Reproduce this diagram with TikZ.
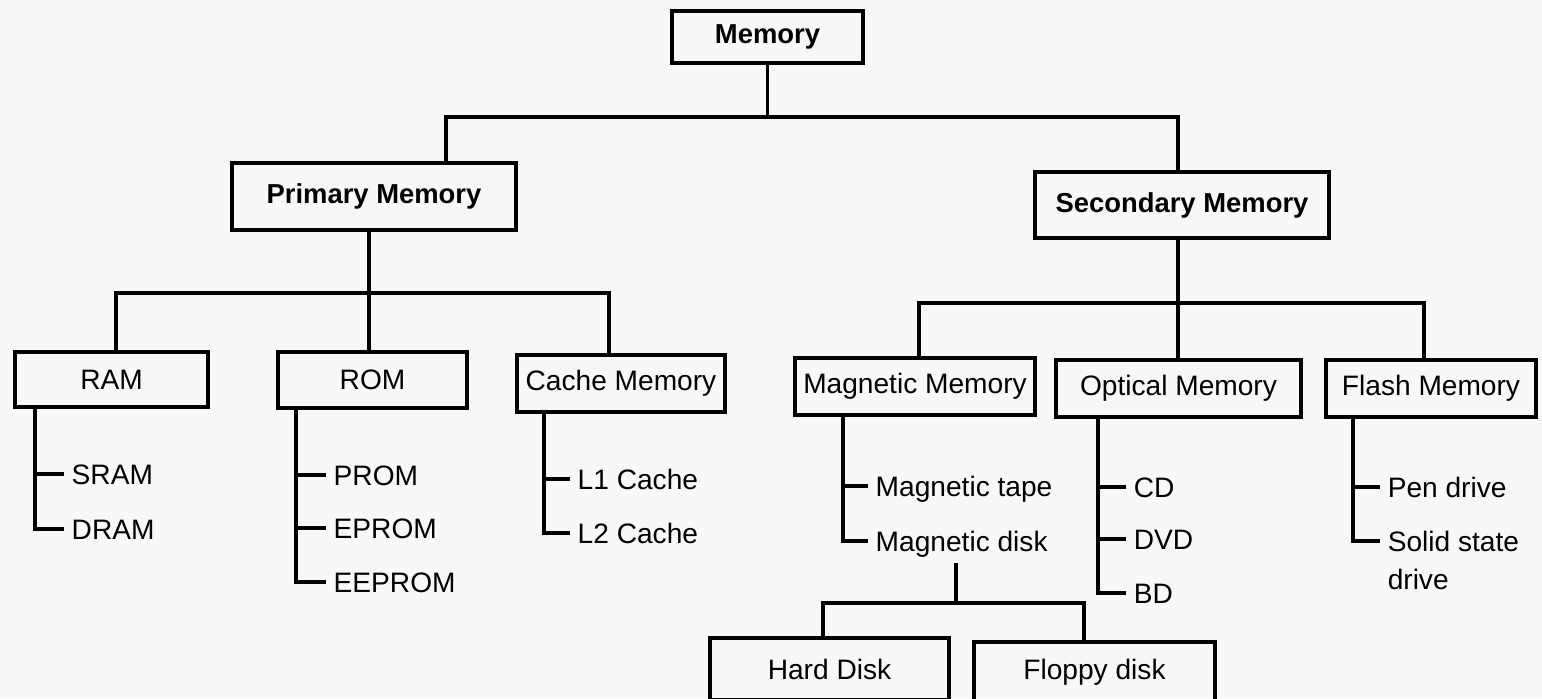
\documentclass[tikz,border=0pt]{standalone}
\usepackage{fontspec}
\setmainfont{Liberation Sans}
\definecolor{paper}{RGB}{248,248,247}
\begin{document}
\begin{tikzpicture}[
  every node/.style={font=\fontsize{8}{9.6}\selectfont},
  box/.style={draw, line width=1pt, inner sep=0pt},
  hbox/.style={box, font=\fontsize{7.8}{9.4}\selectfont\bfseries},
  item/.style={anchor=west, inner xsep=2pt, inner ysep=0pt, text height=6pt, text depth=0pt},
  ln/.style={line width=1pt}
]
\useasboundingbox (0,0) rectangle (15.42,-6.98);
\fill[paper] (0,0) rectangle (15.42,-6.98);
\clip (0,0) rectangle (15.42,-6.98);

% boxes
\node[hbox, minimum width=1.91cm, minimum height=0.52cm] (mem) at (7.675,-0.37) {Memory};
\node[hbox, minimum width=2.84cm, minimum height=0.67cm] (prim) at (3.74,-1.965) {Primary Memory};
\node[hbox, minimum width=2.94cm, minimum height=0.66cm] (sec) at (11.82,-2.05) {Secondary Memory};
\node[box, minimum width=1.93cm, minimum height=0.55cm] (ram) at (1.115,-3.795) {RAM};
\node[box, minimum width=1.89cm, minimum height=0.56cm] (rom) at (3.725,-3.80) {ROM};
\node[box, minimum width=2.08cm, minimum height=0.57cm] (cache) at (6.21,-3.835) {Cache Memory};
\node[box, minimum width=2.40cm, minimum height=0.57cm] (mag) at (9.15,-3.865) {Magnetic Memory};
\node[box, minimum width=2.45cm, minimum height=0.57cm] (opt) at (11.785,-3.885) {Optical Memory};
\node[box, minimum width=2.10cm, minimum height=0.57cm] (flash) at (14.31,-3.885) {Flash Memory};
\node[box, minimum width=2.39cm, minimum height=0.62cm] (hard) at (8.295,-6.69) {Hard Disk};
\node[box, minimum width=2.41cm, minimum height=0.60cm] (floppy) at (10.945,-6.72) {Floppy disk};

% leaf items
\node[item] (sram) at (0.64,-4.74) {SRAM};
\node[item] (dram) at (0.64,-5.29) {DRAM};
\node[item] (prom) at (3.26,-4.75) {PROM};
\node[item] (eprom) at (3.26,-5.28) {EPROM};
\node[item] (eeprom) at (3.26,-5.82) {EEPROM};
\node[item] (lone) at (5.70,-4.79) {L1 Cache};
\node[item] (ltwo) at (5.70,-5.33) {L2 Cache};
\node[item] (mtape) at (8.68,-4.86) {Magnetic tape};
\node[item] (mdisk) at (8.68,-5.41) {Magnetic disk};
\node[item] (cd) at (11.26,-4.87) {CD};
\node[item] (dvd) at (11.26,-5.39) {DVD};
\node[item] (bd) at (11.26,-5.93) {BD};
\node[item] (pen) at (13.80,-4.87) {Pen drive};
\node[anchor=north west, inner xsep=2pt, inner ysep=0pt, align=left,
      font=\fontsize{8}{10.8}\selectfont] (ssd) at (13.80,-5.30) {Solid state\\drive};
\coordinate (ssdt) at (13.80,-5.41);

% junction coordinates
\coordinate (pj) at (4.46,-1.17);
\coordinate (sj) at (11.78,-1.17);
\coordinate (pv) at (3.69,-2.93);
\coordinate (pa) at (1.16,-2.93);
\coordinate (pc) at (6.09,-2.93);
\coordinate (sv) at (11.78,-3.03);
\coordinate (sa) at (9.19,-3.03);
\coordinate (sc) at (14.24,-3.03);
\coordinate (rv) at (0.35,0);
\coordinate (ov) at (2.96,0);
\coordinate (cv) at (5.44,0);
\coordinate (mv) at (8.43,0);
\coordinate (qv) at (10.98,0);
\coordinate (fv) at (13.53,0);
\coordinate (md) at (9.56,-5.63);
\coordinate (mh) at (9.56,-6.03);
\coordinate (ha) at (8.23,-6.03);
\coordinate (hb) at (10.84,-6.03);

% top level
\draw[ln] (mem.south) -- (mem.south |- pj);
\draw[ln] (prim.north -| pj) -- (pj) -- (sj) -- (sec.north -| sj);

% primary level
\draw[ln] (prim.south -| pv) -- (rom.north -| pv);
\draw[ln] (ram.north -| pa) -- (pa) -- (pc) -- (cache.north -| pc);

% secondary level
\draw[ln] (sec.south -| sv) -- (opt.north -| sv);
\draw[ln] (mag.north -| sa) -- (sa) -- (sc) -- (flash.north -| sc);

% RAM
\draw[ln] (ram.south -| rv) |- (dram.west);
\draw[ln] (rv |- sram.west) -- (sram.west);
% ROM
\draw[ln] (rom.south -| ov) |- (eeprom.west);
\draw[ln] (ov |- prom.west) -- (prom.west);
\draw[ln] (ov |- eprom.west) -- (eprom.west);
% Cache
\draw[ln] (cache.south -| cv) |- (ltwo.west);
\draw[ln] (cv |- lone.west) -- (lone.west);
% Magnetic
\draw[ln] (mag.south -| mv) |- (mdisk.west);
\draw[ln] (mv |- mtape.west) -- (mtape.west);
% Optical
\draw[ln] (opt.south -| qv) |- (bd.west);
\draw[ln] (qv |- cd.west) -- (cd.west);
\draw[ln] (qv |- dvd.west) -- (dvd.west);
% Flash
\draw[ln] (flash.south -| fv) |- (ssdt);
\draw[ln] (fv |- pen.west) -- (pen.west);

% Magnetic disk subdivision
\draw[ln] (md) -- (mh);
\draw[ln] (hard.north -| ha) -- (ha) -- (hb) -- (floppy.north -| hb);
\end{tikzpicture}
\end{document}
